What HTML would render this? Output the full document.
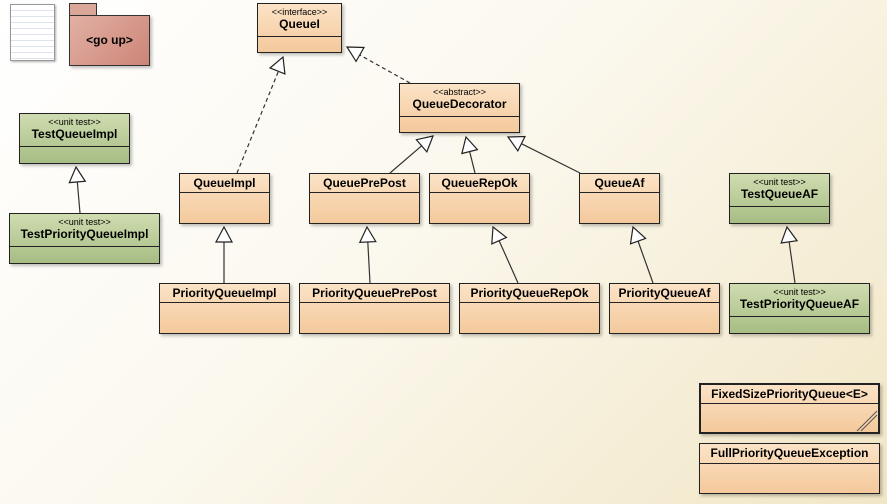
<!DOCTYPE html>
<html><head><meta charset="utf-8"><style>
body{margin:0;width:887px;height:504px;overflow:hidden;background:linear-gradient(135deg,#ffffff 0%,#fbf8ee 45%,#f1e6c6 100%);font-family:"Liberation Sans",sans-serif;position:relative}
.b{position:absolute;box-sizing:border-box;border:1px solid #222;background:linear-gradient(180deg,#fbe3c6,#f4c99c);box-shadow:2px 2px 3px rgba(0,0,0,.25)}
.g{background:linear-gradient(180deg,#cfdcb0,#a7bd84)}
.h{border-bottom:1px solid #222;text-align:center;font-weight:bold;font-size:12px;color:#000;box-sizing:border-box}
.s{font-weight:normal;font-size:9px;display:block;line-height:10px;padding-top:3px}
.t{display:block;line-height:15px}
svg{position:absolute;left:0;top:0}
</style></head><body>
<svg width="887" height="504" id="sv">
<g stroke="#333" fill="none" stroke-width="1.2">
<line x1="237" y1="173" x2="283" y2="60" stroke-dasharray="4,3"/>
<line x1="410" y1="83" x2="349" y2="49" stroke-dasharray="4,3"/>
</g>
</svg>
<div style="position:absolute;left:10px;top:4px;width:43px;height:55px;border:1px solid #999;background:repeating-linear-gradient(180deg,#fff 0 5px,#dde4ee 5px 6px);box-shadow:1px 1px 2px rgba(0,0,0,.3)"></div>
<div style="position:absolute;left:69px;top:3px;width:26px;height:14px;background:#dba79b;border:1px solid #333;border-bottom:none"></div>
<div style="position:absolute;left:69px;top:15px;width:81px;height:51px;box-sizing:border-box;border:1px solid #333;background:linear-gradient(135deg,#e2b0a4,#cc8577);font-weight:bold;font-size:12px;text-align:center;line-height:48px;box-shadow:2px 2px 3px rgba(0,0,0,.25)">&lt;go up&gt;</div>

<div class="b" style="left:257px;top:3px;width:85px;height:50px"><div class="h" style="height:33px"><span class="s">&lt;&lt;interface&gt;&gt;</span><span class="t">QueueI</span></div></div>
<div class="b" style="left:399px;top:83px;width:121px;height:50px"><div class="h" style="height:33px"><span class="s">&lt;&lt;abstract&gt;&gt;</span><span class="t">QueueDecorator</span></div></div>
<div class="b g" style="left:19px;top:113px;width:111px;height:51px"><div class="h" style="height:33px"><span class="s">&lt;&lt;unit test&gt;&gt;</span><span class="t">TestQueueImpl</span></div></div>
<div class="b g" style="left:9px;top:213px;width:151px;height:51px"><div class="h" style="height:33px"><span class="s">&lt;&lt;unit test&gt;&gt;</span><span class="t">TestPriorityQueueImpl</span></div></div>
<div class="b g" style="left:729px;top:173px;width:101px;height:51px"><div class="h" style="height:33px"><span class="s">&lt;&lt;unit test&gt;&gt;</span><span class="t">TestQueueAF</span></div></div>
<div class="b g" style="left:729px;top:283px;width:141px;height:51px"><div class="h" style="height:33px"><span class="s">&lt;&lt;unit test&gt;&gt;</span><span class="t">TestPriorityQueueAF</span></div></div>

<div class="b" style="left:179px;top:173px;width:91px;height:51px"><div class="h" style="height:19px;line-height:18px">QueueImpl</div></div>
<div class="b" style="left:309px;top:173px;width:111px;height:51px"><div class="h" style="height:19px;line-height:18px">QueuePrePost</div></div>
<div class="b" style="left:429px;top:173px;width:101px;height:51px"><div class="h" style="height:19px;line-height:18px">QueueRepOk</div></div>
<div class="b" style="left:579px;top:173px;width:81px;height:51px"><div class="h" style="height:19px;line-height:18px">QueueAf</div></div>
<div class="b" style="left:159px;top:283px;width:131px;height:51px"><div class="h" style="height:19px;line-height:18px">PriorityQueueImpl</div></div>
<div class="b" style="left:299px;top:283px;width:151px;height:51px"><div class="h" style="height:19px;line-height:18px">PriorityQueuePrePost</div></div>
<div class="b" style="left:459px;top:283px;width:141px;height:51px"><div class="h" style="height:19px;line-height:18px">PriorityQueueRepOk</div></div>
<div class="b" style="left:609px;top:283px;width:111px;height:51px"><div class="h" style="height:19px;line-height:18px">PriorityQueueAf</div></div>
<div class="b" style="left:699px;top:383px;width:181px;height:51px;border-width:2px"><div class="h" style="height:19px;line-height:18px;border-bottom-width:1px">FixedSizePriorityQueue&lt;E&gt;</div>
<svg width="177" height="47" style="position:absolute;left:0;top:0"><line x1="156" y1="46" x2="176" y2="26" stroke="#555"/><line x1="160" y1="46" x2="176" y2="30" stroke="#555"/></svg></div>
<div class="b" style="left:699px;top:443px;width:181px;height:51px"><div class="h" style="height:20px;line-height:19px">FullPriorityQueueException</div></div>

<svg width="887" height="504" id="ar"></svg>
<script>
var A=[[237,173,283,57],[410,83,347,47],[390,173,433,136],[475,173,466,137],[580,173,508,137],
[224,283,224,227],[370,283,367,227],[518,283,493,227],[653,283,633,227],[80,213,76,167],[795,283,787,227]];
var s='';
A.forEach(function(a,i){var dx=a[2]-a[0],dy=a[3]-a[1],L=Math.hypot(dx,dy),ux=dx/L,uy=dy/L;
var bx=a[2]-ux*15,by=a[3]-uy*15,px=-uy*8,py=ux*8;
if(i>1)s+='<line x1="'+a[0]+'" y1="'+a[1]+'" x2="'+bx+'" y2="'+by+'" stroke="#333" stroke-width="1.2"/>';
s+='<polygon points="'+a[2]+','+a[3]+' '+(bx+px)+','+(by+py)+' '+(bx-px)+','+(by-py)+'" fill="#fff" stroke="#222" stroke-width="1.2"/>';});
document.getElementById('ar').innerHTML=s;
</script>
</body></html>
